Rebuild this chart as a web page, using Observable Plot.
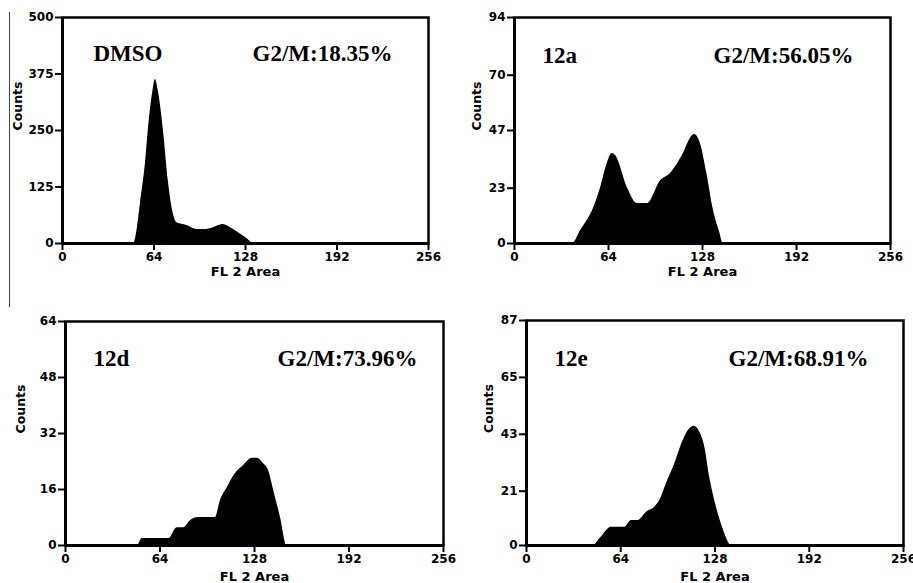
<!DOCTYPE html>
<html>
<head>
<meta charset="utf-8">
<script src="https://cdn.jsdelivr.net/npm/d3@7"></script>
<script src="https://cdn.jsdelivr.net/npm/@observablehq/plot@0.6"></script>
<style>
  html, body { margin: 0; padding: 0; background: #fff; }
  #root { position: relative; width: 913px; height: 583px; overflow: hidden; background: #fff; }
  .panel { position: absolute; }
  .panel svg { display: block; background: transparent; }
  #stray { position: absolute; left: 9px; top: 12px; width: 1px; height: 295px; background: #444; }
</style>
</head>
<body>
<div id="root"><div id="stray"></div></div>
<script>
// ---- Data ----
const xTicks = [0, 64, 128, 192, 256];

const dmsoX = [0, 49.7, 52.4, 54.5, 58, 60, 63, 65, 67, 70.6, 74, 77, 80, 87, 94, 99, 105.6, 112, 117.5, 123, 129, 133.6, 256];
const dmsoY = [0, 0, 35, 88, 177, 250, 332, 363, 338, 250, 139, 73, 46, 40, 31, 31, 35, 42, 35, 24, 11, 0, 0];
const dmsoTicks = [0, 125, 250, 375, 500];

const a12X = [0, 39.5, 45, 54, 58.5, 63, 66.5, 68.8, 77, 83.7, 90.5, 99.4, 106, 115, 120, 122.5, 126.6, 131, 135.5, 140, 142, 256];
const a12Y = [0, 0, 5.4, 15, 23, 33, 37.4, 36.6, 23, 16.6, 16.6, 26, 29, 37.4, 44, 45.3, 41.6, 29, 13.7, 4, 0, 0];
const a12Ticks = [0, 23, 47, 70, 94];

const d12X = [0, 48.7, 52, 70, 75.6, 80, 84.6, 90, 101.5, 105, 109.6, 115, 120.5, 126.6, 130, 134, 137.5, 141, 145.6, 150, 256];
const d12Y = [0, 0, 2, 2, 5.1, 5.1, 7.1, 8, 8, 12.9, 16.6, 20.5, 22.8, 24.9, 24.9, 23.4, 21.4, 15.7, 8, 0, 0];
const d12Ticks = [0, 16, 32, 48, 64];

const e12X = [0, 45.3, 49.8, 57.7, 66.7, 71.3, 75.8, 81.5, 87.1, 90.5, 95, 100.7, 106.4, 110.9, 113.8, 117.7, 121.1, 124.4, 129, 133.5, 139.2, 256];
const e12Y = [0, 0, 2.6, 7.1, 7.1, 9.7, 9.7, 12.9, 14.8, 17.4, 23.9, 31.6, 40.6, 45.1, 46.1, 43.8, 38, 26.4, 14.8, 6.4, 0, 0];
const e12Ticks = [0, 21, 43, 65, 87];

const panelNames = ["DMSO", "12a", "12d", "12e"];
const g2mLabels = ["G2/M:18.35%", "G2/M:56.05%", "G2/M:73.96%", "G2/M:68.91%"];
const xLabel = "FL 2 Area";
const yLabel = "Counts";

// ---- Layout (positions/sizes) ----
const layouts = [
  {left: 0,   top: 0,   w: 456, h: 290, ml: 62, mr: 28, mt: 17, mb: 47, nameDx: 31, gDx: 190, tDy: 36, cDx: -45, fDy: 32},
  {left: 456, top: 0,   w: 457, h: 290, ml: 58, mr: 23, mt: 17, mb: 47, nameDx: 28, gDx: 199, tDy: 38, cDx: -38, fDy: 32},
  {left: 0,   top: 290, w: 456, h: 293, ml: 65, mr: 13, mt: 31, mb: 38, nameDx: 28, gDx: 212, tDy: 37, cDx: -45, fDy: 35},
  {left: 456, top: 290, w: 457, h: 293, ml: 70, mr: 10, mt: 30, mb: 38, nameDx: 28, gDx: 202, tDy: 38, cDx: -38, fDy: 35}
];

const series = [
  {xs: dmsoX, ys: dmsoY, ticks: dmsoTicks},
  {xs: a12X, ys: a12Y, ticks: a12Ticks},
  {xs: d12X, ys: d12Y, ticks: d12Ticks},
  {xs: e12X, ys: e12Y, ticks: e12Ticks}
];

const root = document.getElementById("root");
const serif = "'Liberation Serif', 'Times New Roman', serif";
const sans = "'DejaVu Sans', sans-serif";

series.forEach((s, i) => {
  const L = layouts[i];
  const data = s.xs.map((x, k) => ({x, y: s.ys[k]}));
  const ymax = s.ticks[s.ticks.length - 1];
  const chart = Plot.plot({
    width: L.w,
    height: L.h,
    marginLeft: L.ml,
    marginRight: L.mr,
    marginTop: L.mt,
    marginBottom: L.mb,
    style: {fontFamily: sans, fontSize: "12px", fontWeight: "bold", color: "#000", background: "transparent", overflow: "visible"},
    x: {domain: [0, 256]},
    y: {domain: [0, ymax]},
    marks: [
      Plot.areaY(data, {x: "x", y: "y", fill: "#000", curve: "monotone-x"}),
      Plot.frame({stroke: "#000", strokeWidth: 2.5}),
      Plot.ruleY([0], {stroke: "#000", strokeWidth: 3}),
      Plot.ruleX([0], {stroke: "#000", strokeWidth: 3}),
      Plot.axisX({ticks: xTicks, tickSize: 7, tickPadding: 2, strokeWidth: 2, label: null, fontSize: 12, fontFamily: sans, fontWeight: "bold", tickFormat: d => String(d)}),
      Plot.axisY({ticks: s.ticks, tickSize: 7, tickPadding: 2, strokeWidth: 2, label: null, fontSize: 12, fontFamily: sans, fontWeight: "bold", tickFormat: d => String(d)}),
      Plot.text([yLabel], {frameAnchor: "left", dx: L.cDx, rotate: -90, fontFamily: sans, fontSize: 12.5, fontWeight: "bold", fill: "#000"}),
      Plot.text([xLabel], {frameAnchor: "bottom", dy: L.fDy, fontFamily: sans, fontSize: 13, fontWeight: "bold", fill: "#000"}),
      Plot.text([panelNames[i]], {frameAnchor: "top-left", dx: L.nameDx, dy: L.tDy, textAnchor: "start", lineAnchor: "middle", fontFamily: serif, fontSize: 23, fontWeight: "bold", fill: "#000"}),
      Plot.text([g2mLabels[i]], {frameAnchor: "top-left", dx: L.gDx, dy: L.tDy, textAnchor: "start", lineAnchor: "middle", fontFamily: serif, fontSize: 23, fontWeight: "bold", fill: "#000"})
    ]
  });
  const div = document.createElement("div");
  div.className = "panel";
  div.style.left = L.left + "px";
  div.style.top = L.top + "px";
  div.appendChild(chart);
  root.appendChild(div);
});
</script>
</body>
</html>
